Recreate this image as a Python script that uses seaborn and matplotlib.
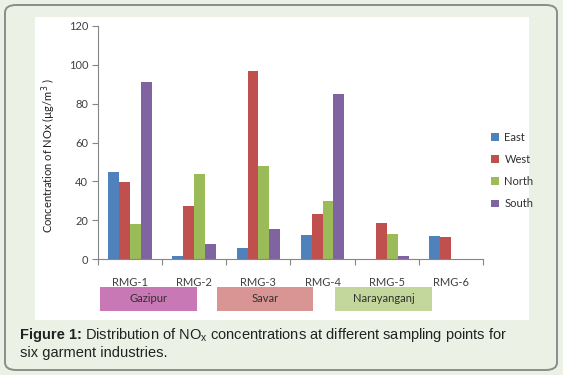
import matplotlib
matplotlib.use("Agg")
import matplotlib.pyplot as plt
import seaborn as sns
import pandas as pd
from matplotlib.patches import FancyBboxPatch, Rectangle

# ---- data ----
sites = ["RMG-1", "RMG-2", "RMG-3", "RMG-4", "RMG-5", "RMG-6"]
east = [45, 1.5, 5.8, 12.4, 0, 11.7]
west = [39.5, 27.5, 97, 23, 18.4, 11.4]
north = [17.9, 44, 48, 30, 12.9, 0]
south = [91, 7.7, 15.5, 85, 1.6, 0]
directions = ["East", "West", "North", "South"]
colors = ["#4F81BD", "#C0504D", "#9BBB59", "#8064A2"]
regions = ["Gazipur", "Savar", "Narayanganj"]
region_colors = ["#C878B5", "#D99594", "#C3D69B"]
yticks = [0, 20, 40, 60, 80, 100, 120]

rows = []
for i, s in enumerate(sites):
    for d, vals in zip(directions, [east, west, north, south]):
        rows.append({"site": s, "dir": d, "val": vals[i]})
df = pd.DataFrame(rows)

sns.set_theme(style="white")
plt.rcParams["font.family"] = ["Lato", "DejaVu Sans"]

W, H = 563, 375
fig = plt.figure(figsize=(W / 100, H / 100), dpi=100)
fig.patch.set_facecolor("#EBF1E4")

def fx(px):
    return px / W

def fy(py):
    return 1 - py / H

# outer rounded frame
frame = FancyBboxPatch((fx(5), fy(370)), fx(552), (365) / H,
                       boxstyle="round,pad=0,rounding_size=0.02",
                       transform=fig.transFigure, facecolor="#EBF1E4",
                       edgecolor="#8C8C8C", linewidth=1.4, zorder=0)
fig.patches.append(frame)
# white panel
panel = Rectangle((fx(35), fy(320)), fx(494), (303) / H,
                  transform=fig.transFigure, facecolor="white",
                  edgecolor="none", zorder=0.5)
fig.patches.append(panel)

ax = fig.add_axes([fx(98), fy(259), fx(385), (233) / H])
ax.set_zorder(3)
ax.set_facecolor("none")
sns.barplot(data=df, x="site", y="val", hue="dir", hue_order=directions,
            palette=colors, width=0.68, saturation=1, ax=ax, legend=True,
            edgecolor="none")
ax.set_xlim(-0.5, 5.5)
ax.set_ylim(0, 120)
ax.set_yticks(yticks)
ax.set_yticklabels([str(v) for v in yticks], fontsize=8, color="#404040")
ax.set_xticks(range(len(sites)))
ax.set_xticklabels(sites, fontsize=8, color="#404040")
ax.set_xticks([i - 0.5 for i in range(len(sites) + 1)], minor=True)
ax.tick_params(axis="x", which="major", bottom=True, length=0, pad=13)
ax.tick_params(axis="x", which="minor", bottom=True, length=4, width=0.8,
               color="#868686", direction="out")
ax.tick_params(axis="y", which="major", left=True, length=4, width=0.8,
               color="#868686", direction="out", pad=3)
ax.set_xlabel("")
ax.set_ylabel("Concentration of NOx (µg/m$^3$ )", fontsize=8, color="#202020")
ax.yaxis.set_label_coords(-0.103, 0.442)
for sp in ["top", "right"]:
    ax.spines[sp].set_visible(False)
for sp in ["left", "bottom"]:
    ax.spines[sp].set_color("#868686")
    ax.spines[sp].set_linewidth(0.8)

handles = [Rectangle((0, 0), 1, 1, facecolor=c, edgecolor="none") for c in colors]
ax.legend(handles, directions, loc="upper left", bbox_to_anchor=(fx(481), fy(122)),
          bbox_transform=fig.transFigure, frameon=False, fontsize=8,
          handlelength=0.7, handleheight=0.7, handletextpad=0.5, labelspacing=1.0,
          labelcolor="#303030")

# region boxes
boxes = [(100, 197), (217, 313), (335, 432)]
for (x0, x1), name, c in zip(boxes, regions, region_colors):
    fig.patches.append(Rectangle((fx(x0), fy(311)), fx(x1 - x0), 24 / H,
                                 transform=fig.transFigure, facecolor=c,
                                 edgecolor="none", zorder=1))
    fig.text(fx((x0 + x1) / 2), fy(299), name, ha="center", va="center",
             fontsize=8, color="#303030")

# caption
cap_font = ["Liberation Sans", "DejaVu Sans"]
cs = 10.5
t1 = fig.text(fx(20), fy(335), "Figure 1:", fontsize=cs, fontweight="bold",
              family=cap_font, va="center", ha="left", color="#222222")
fig.canvas.draw()
bb = t1.get_window_extent()
fig.text(bb.x1 / fig.dpi / fig.get_figwidth() + fx(3), fy(335),
         "Distribution of NO$_\\mathregular{x}$ concentrations at different sampling points for",
         fontsize=cs, family=cap_font, va="center", ha="left", color="#222222")
fig.text(fx(20), fy(353), "six garment industries.", fontsize=cs, family=cap_font,
         va="center", ha="left", color="#222222")

fig.savefig("out.png", dpi=100, facecolor=fig.get_facecolor())
